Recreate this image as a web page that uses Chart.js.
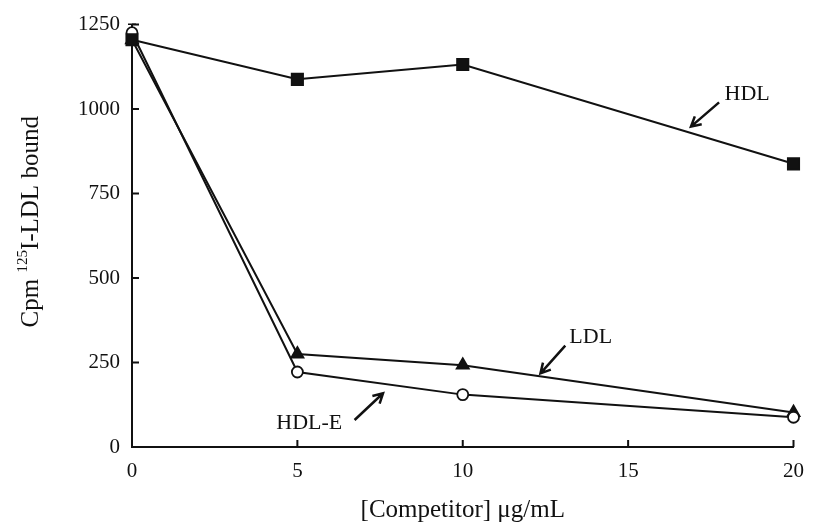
<!DOCTYPE html>
<html>
<head>
<meta charset="utf-8">
<script src="https://cdn.jsdelivr.net/npm/chart.js@4/dist/chart.umd.min.js"></script>
<style>
  html, body { margin: 0; padding: 0; background: #fff; }
  .stage { width: 816px; height: 525px; position: relative; }
</style>
</head>
<body>
<div class="stage"><canvas id="binding"></canvas></div>
<script>
// competitor concentration, ug/mL
const competitor = [0, 5, 10, 20];
const hdl = [1205, 1088, 1132, 838];
const ldl = [1205, 275, 242, 102];
const hdlE = [1226, 222, 155, 88];
const hdlEErr = [25, 0, 0, 0];
const xTicks = [0, 5, 10, 15, 20];
const yTicks = [0, 250, 500, 750, 1000, 1250];

const serif = '"Liberation Serif", "DejaVu Serif", serif';
const ink = '#111';

// label text + arrow (tail -> head), in data units
const notes = [
  { text: 'HDL', at: [18.6, 1044], from: [17.75, 1020], to: [16.9, 948] },
  { text: 'LDL', at: [13.87, 324], from: [13.1, 300], to: [12.35, 218] },
  { text: 'HDL-E', at: [5.36, 71], from: [6.73, 80], to: [7.59, 159] },
];

const series = (label, data, pointStyle, radius, fill) => ({
  label,
  data: competitor.map((x, i) => ({ x, y: data[i] })),
  borderColor: ink, borderWidth: 2,
  pointStyle, pointRadius: radius, pointHoverRadius: radius,
  pointBackgroundColor: fill, pointBorderColor: ink, pointBorderWidth: 1.8,
  tension: 0, clip: false,
});

const inwardTicks = {
  id: 'inwardTicks',
  afterDraw(chart) {
    const { ctx, chartArea: a, scales: { x, y } } = chart;
    ctx.save();
    ctx.strokeStyle = ink;
    ctx.lineWidth = 2;
    ctx.beginPath();
    xTicks.forEach((v) => { const px = x.getPixelForValue(v); ctx.moveTo(px, a.bottom); ctx.lineTo(px, a.bottom - 7); });
    yTicks.forEach((v) => { const py = y.getPixelForValue(v); ctx.moveTo(a.left, py); ctx.lineTo(a.left + 7, py); });
    ctx.stroke();
    ctx.restore();
  },
};

const errorBars = {
  id: 'errorBars',
  beforeDatasetsDraw(chart) {
    const { ctx, scales: { x, y } } = chart;
    ctx.save();
    ctx.strokeStyle = ink;
    ctx.lineWidth = 1.5;
    hdlEErr.forEach((e, i) => {
      if (!e) return;
      const px = x.getPixelForValue(competitor[i]);
      const y0 = y.getPixelForValue(hdlE[i]);
      const y1 = y.getPixelForValue(hdlE[i] + e);
      ctx.beginPath();
      ctx.moveTo(px, y0); ctx.lineTo(px, y1);
      ctx.moveTo(px - 4, y1); ctx.lineTo(px + 4, y1);
      ctx.stroke();
    });
    ctx.restore();
  },
};

const labels = {
  id: 'labels',
  afterDraw(chart) {
    const { ctx, scales: { x, y } } = chart;
    ctx.save();
    ctx.fillStyle = ink;
    ctx.strokeStyle = ink;
    ctx.font = '22px ' + serif;
    ctx.textAlign = 'center';
    ctx.textBaseline = 'middle';
    notes.forEach((n) => {
      ctx.fillText(n.text, x.getPixelForValue(n.at[0]), y.getPixelForValue(n.at[1]));
      const x0 = x.getPixelForValue(n.from[0]), y0 = y.getPixelForValue(n.from[1]);
      const x1 = x.getPixelForValue(n.to[0]), y1 = y.getPixelForValue(n.to[1]);
      const ang = Math.atan2(y1 - y0, x1 - x0);
      ctx.lineWidth = 2.5;
      ctx.beginPath();
      ctx.moveTo(x0, y0); ctx.lineTo(x1, y1);
      ctx.moveTo(x1 - 11 * Math.cos(ang - 0.5), y1 - 11 * Math.sin(ang - 0.5));
      ctx.lineTo(x1, y1);
      ctx.lineTo(x1 - 11 * Math.cos(ang + 0.5), y1 - 11 * Math.sin(ang + 0.5));
      ctx.stroke();
    });

    // y title with superscript 125
    const cy = (chart.chartArea.top + chart.chartArea.bottom) / 2 - 14;
    ctx.translate(38, cy);
    ctx.rotate(-Math.PI / 2);
    ctx.textAlign = 'left';
    ctx.textBaseline = 'alphabetic';
    const big = '25px ' + serif, small = '15px ' + serif;
    ctx.font = big; const w1 = ctx.measureText('Cpm ').width;
    ctx.font = small; const w2 = ctx.measureText('125').width;
    ctx.font = big; const w3 = ctx.measureText('I-LDL bound').width;
    let sx = -(w1 + w2 + w3) / 2;
    ctx.fillText('Cpm ', sx, 0); sx += w1;
    ctx.font = small; ctx.fillText('125', sx, -11); sx += w2;
    ctx.font = big; ctx.fillText('I-LDL bound', sx, 0);
    ctx.restore();
  },
};

new Chart(document.getElementById('binding'), {
  type: 'line',
  data: {
    datasets: [
      series('HDL', hdl, 'rect', 8, ink),
      series('HDL-E', hdlE, 'circle', 5.5, '#fff'),
      series('LDL', ldl, 'triangle', 7, ink),
    ],
  },
  options: {
    responsive: true,
    maintainAspectRatio: false,
    animation: false,
    layout: { padding: { top: 22, right: 12, left: 0, bottom: 0 } },
    plugins: { legend: { display: false }, tooltip: { enabled: false } },
    scales: {
      x: {
        type: 'linear', min: 0, max: 20,
        afterFit: (s) => { s.height = 78; },
        afterBuildTicks: (s) => { s.ticks = xTicks.map((value) => ({ value })); },
        grid: { display: false, drawTicks: false },
        border: { display: true, color: ink, width: 2 },
        ticks: { color: ink, padding: 12, maxRotation: 0, callback: (v) => String(v), font: { family: serif, size: 21 } },
        title: { display: true, text: '[Competitor] μg/mL', color: ink, padding: { top: 0, bottom: 0 }, font: { family: serif, size: 25 } },
      },
      y: {
        min: 0, max: 1250,
        afterFit: (s) => { s.width = 132; },
        afterBuildTicks: (s) => { s.ticks = yTicks.map((value) => ({ value })); },
        grid: { display: false, drawTicks: false },
        border: { display: true, color: ink, width: 2 },
        ticks: { color: ink, padding: 12, callback: (v) => String(v), font: { family: serif, size: 21 } },
      },
    },
  },
  plugins: [inwardTicks, errorBars, labels],
});
</script>
</body>
</html>
